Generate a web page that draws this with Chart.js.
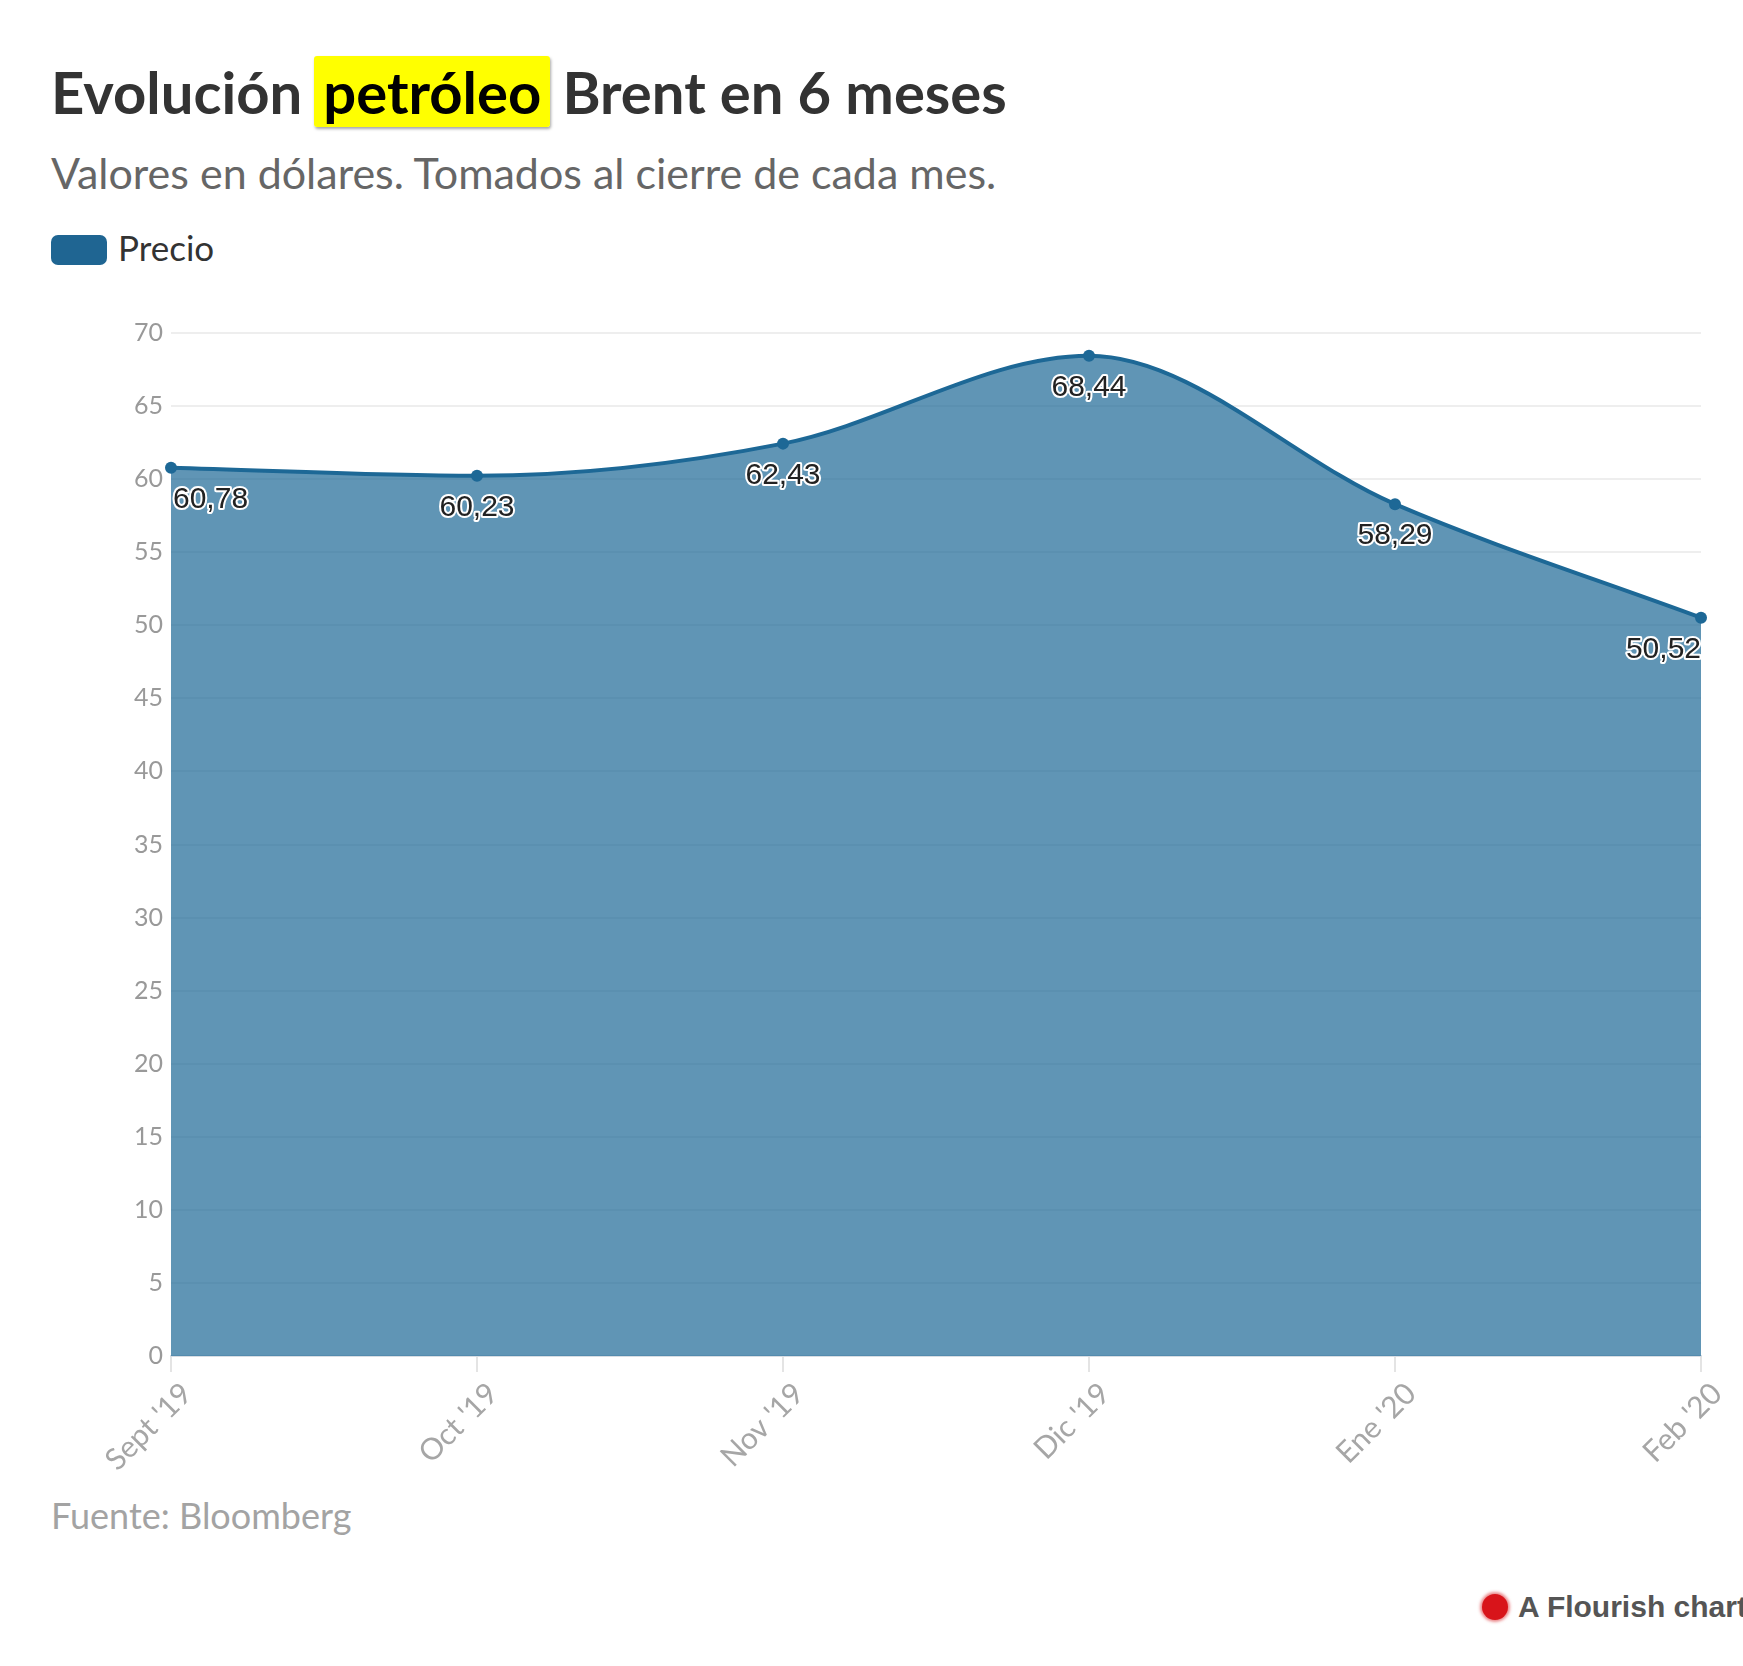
<!DOCTYPE html>
<html>
<head>
<meta charset="utf-8">
<script src="https://cdn.jsdelivr.net/npm/chart.js@4.4.1/dist/chart.umd.min.js"></script>
<style>
    body { margin: 0; background: #fff; width: 1743px; height: 1666px; overflow: hidden; position: relative; font-family: Lato, "Open Sans", sans-serif; }
    .title { position: absolute; left: 51px; top: 62px; font-size: 58px; font-weight: 700; color: #333; line-height: 60px; white-space: nowrap; }
    .title .mark { background: #ffff00; color: #000; padding: 1px 9px; margin: 0 -2px; border-radius: 3px; box-shadow: 1px 2px 3px rgba(0, 0, 0, 0.35); }
    .subtitle { position: absolute; left: 51px; top: 148px; font-size: 43px; color: #666; line-height: 50px; white-space: nowrap; }
    .legend { position: absolute; left: 51px; top: 227px; font-size: 35px; color: #333; line-height: 40px; }
    .legend .swatch { display: inline-block; width: 56px; height: 30px; border-radius: 7px; background: #1f6592; vertical-align: -4px; margin-right: 11px; }
    .source { position: absolute; left: 51px; top: 1495px; font-size: 36px; color: #a3a3a3; line-height: 40px; }
    .flourish { position: absolute; left: 1482px; top: 1590px; font-family: "Liberation Sans", Arial, sans-serif; font-weight: 700; font-size: 30px; color: #555; line-height: 34px; white-space: nowrap; }
    .flourish .logo { display: inline-block; width: 26px; height: 26px; border-radius: 50%; background: #d8141a; vertical-align: -3px; margin-right: 10px; box-shadow: 0 0 3px 2px rgba(216, 20, 26, 0.5); }
    .chart-box { position: absolute; left: 0; top: 290px; width: 1743px; height: 1200px; }
</style>
</head>
<body>
<div class="title">Evolución <span class="mark">petróleo</span> Brent en 6 meses</div>
<div class="subtitle">Valores en dólares. Tomados al cierre de cada mes.</div>
<div class="legend"><span class="swatch"></span>Precio</div>
<div class="chart-box"><canvas id="brentChart"></canvas></div>
<div class="source">Fuente: Bloomberg</div>
<div class="flourish"><span class="logo"></span>A Flourish chart</div>

<script>
const months = ["Sept '19", "Oct '19", "Nov '19", "Dic '19", "Ene '20", "Feb '20"];
const prices = [60.78, 60.23, 62.43, 68.44, 58.29, 50.52];
const yTicks = [0, 5, 10, 15, 20, 25, 30, 35, 40, 45, 50, 55, 60, 65, 70];

// value labels under each point, white halo, kept inside the plot area
const valueLabels = {
    id: 'valueLabels',
    afterDatasetsDraw(chart) {
        const ctx = chart.ctx;
        const area = chart.chartArea;
        const meta = chart.getDatasetMeta(0);
        ctx.save();
        ctx.font = '30px "Liberation Sans", Arial, sans-serif';
        ctx.textAlign = 'left';
        ctx.textBaseline = 'middle';
        ctx.lineJoin = 'round';
        ctx.lineWidth = 4;
        ctx.strokeStyle = '#fff';
        ctx.fillStyle = '#222';
        meta.data.forEach((pt, i) => {
            const text = prices[i].toFixed(2).replace('.', ',');
            const w = ctx.measureText(text).width;
            let x = pt.x - w / 2;
            x = Math.max(area.left + 2, Math.min(x, area.right - w));
            ctx.strokeText(text, x, pt.y + 32);
            ctx.fillText(text, x, pt.y + 32);
        });
        ctx.restore();
    }
};

const ctx = document.getElementById('brentChart').getContext('2d');
new Chart(ctx, {
    type: 'line',
    data: {
        labels: months,
        datasets: [{
            label: 'Precio',
            data: prices,
            borderColor: 'rgb(29, 104, 150)',
            backgroundColor: 'rgba(29, 104, 150, 0.7)',
            fill: 'origin',
            borderWidth: 4,
            cubicInterpolationMode: 'monotone',
            pointRadius: 6,
            pointBackgroundColor: 'rgb(29, 104, 150)',
            pointBorderWidth: 0
        }]
    },
    options: {
        responsive: true,
        maintainAspectRatio: false,
        animation: false,
        layout: { padding: { top: 43, right: 42, bottom: 0, left: 0 } },
        plugins: {
            legend: { display: false },
            tooltip: { enabled: false }
        },
        scales: {
            x: {
                grid: { drawOnChartArea: false, color: '#e4e4e4', lineWidth: 2, tickLength: 16 },
                border: { color: '#d8dde3', width: 2 },
                ticks: {
                    color: '#a6a6a6',
                    font: { family: 'Lato', size: 30 },
                    minRotation: 45,
                    maxRotation: 45,
                    labelOffset: 16,
                    padding: 4
                },
                afterFit(scale) { scale.height = 134; }
            },
            y: {
                min: 0,
                max: 70,
                afterBuildTicks(scale) { scale.ticks = yTicks.map(v => ({ value: v })); },
                grid: { color: '#eeeeee', lineWidth: 2, drawTicks: false },
                border: { display: false },
                ticks: {
                    color: '#999',
                    font: { family: 'Lato', size: 25 },
                    padding: 8
                },
                afterFit(scale) { scale.width = 171; }
            }
        }
    },
    plugins: [valueLabels]
});
</script>
</body>
</html>
